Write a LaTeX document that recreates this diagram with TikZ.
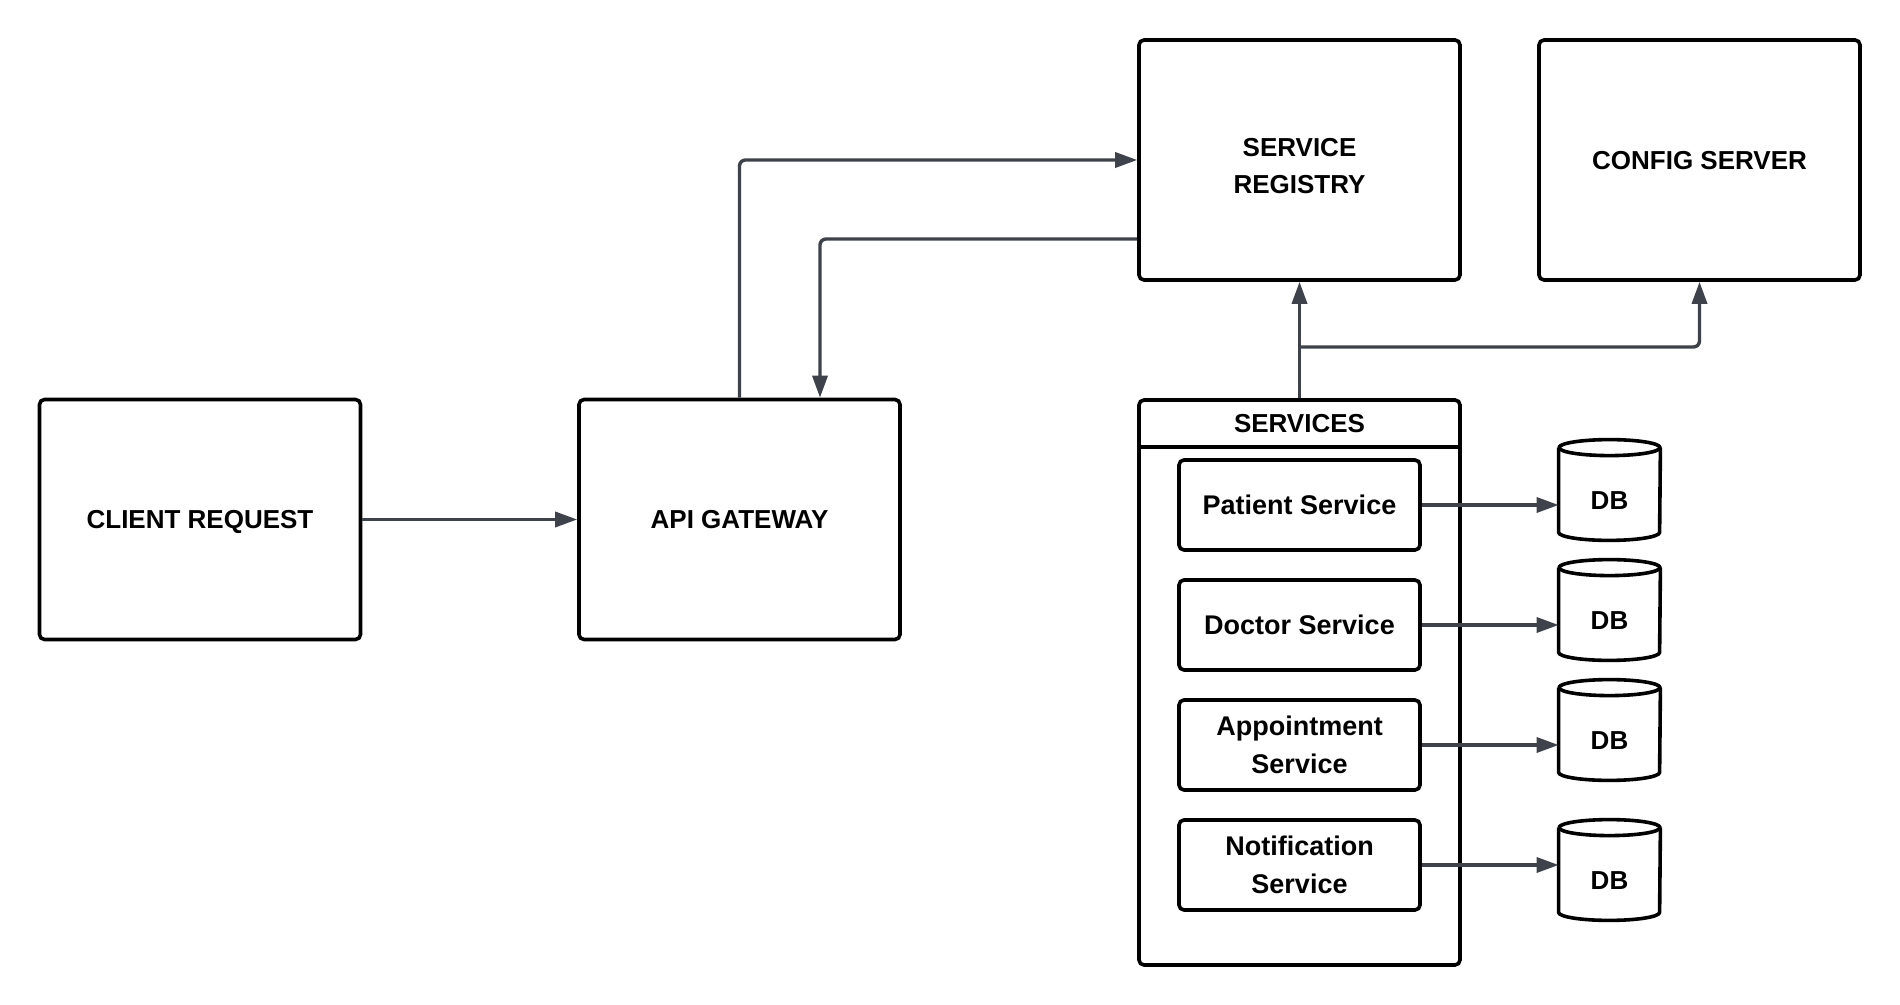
\documentclass[tikz,border=0pt]{standalone}
\usepackage{fontspec}
\setmainfont{Liberation Sans}
\usetikzlibrary{arrows.meta,calc}
\definecolor{linkgray}{HTML}{3E434B}
\tikzset{
  box/.style={draw=black,line width=1.8pt,rounded corners=2.5pt,align=center,inner sep=0pt,
    text depth=0pt,font=\bfseries\fontsize{13}{18.5}\selectfont},
  big/.style={box,minimum width=160.5pt,minimum height=120pt},
  svc/.style={box,minimum width=120.5pt,minimum height=45pt,text depth=,font=\bfseries\fontsize{13.5}{19}\selectfont},
  db/.style={inner sep=0pt,minimum width=50.5pt,minimum height=50pt,text height=19.3pt,text depth=0pt,
    font=\bfseries\fontsize{13}{16}\selectfont},
  dbline/.style={draw=black,line width=1.8pt,line join=round},
  link/.style={draw=linkgray,line width=1.7pt,rounded corners=3pt,-{Triangle[length=11pt,width=7.5pt]}}
}
\begin{document}
\begin{tikzpicture}[x=0.5pt,y=-0.5pt]
\useasboundingbox (0,0) rectangle (1900,1005);
\node[big] (client) at (200,519.5) {CLIENT REQUEST};
\node[big] (gateway) at (739.5,519.5) {API GATEWAY};
\node[big,label={[align=center,font=\bfseries\fontsize{13}{18.5}\selectfont,yshift=-3pt]center:SERVICE\\REGISTRY}] (registry) at (1299.5,160) {};
\node[big] (config) at (1699.5,160) {CONFIG SERVER};
\node[box,minimum width=160.5pt,minimum height=282.5pt] (services) at (1299.5,682.5) {};
\node[font=\bfseries\fontsize{13}{16}\selectfont] (head) at (1299.5,423.5) {SERVICES};
\draw[line width=1.8pt] (services.west |- 0,447) -- (services.east |- 0,447);
\node[svc] (patient) at (1299.5,505) {Patient Service};
\node[svc] (doctor) at (1299.5,625) {Doctor Service};
\node[svc] (appoint) at (1299.5,745) {Appointment\\Service};
\node[svc] (notify) at (1299.5,865) {Notification\\Service};
\node[db] (db1) at (1609.5,490) {DB};
\node[db] (db2) at (1609.5,610) {DB};
\node[db] (db3) at (1609.5,730) {DB};
\node[db] (db4) at (1609.5,870) {DB};
\foreach \d in {db1,db2,db3,db4} {
  \draw[dbline] ([yshift=-4pt]\d.north west) -- ([yshift=4pt]\d.south west)
    arc[start angle=180,end angle=360,x radius=25.25pt,y radius=4pt]
    -- ([yshift=-4pt]\d.north east);
  \draw[dbline] ([yshift=-4pt]\d.north) ellipse[x radius=25.25pt,y radius=4pt];
}
\coordinate (branch) at ($(services.north)!0.44!(registry.south)$);
\draw[link] (client) -- (gateway);
\draw[link] (gateway.north) |- (registry.west);
\draw[link] ($(registry.west)+(0,79)$) -| ($(gateway.north)+(80.5,0)$);
\draw[link] (services.north) -- (registry.south);
\draw[link] (branch) -| (config.south);
\draw[link] (patient.east) -- (patient.east -| db1.west);
\draw[link] (doctor.east) -- (doctor.east -| db2.west);
\draw[link] (appoint.east) -- (appoint.east -| db3.west);
\draw[link] (notify.east) -- (notify.east -| db4.west);
\end{tikzpicture}
\end{document}
